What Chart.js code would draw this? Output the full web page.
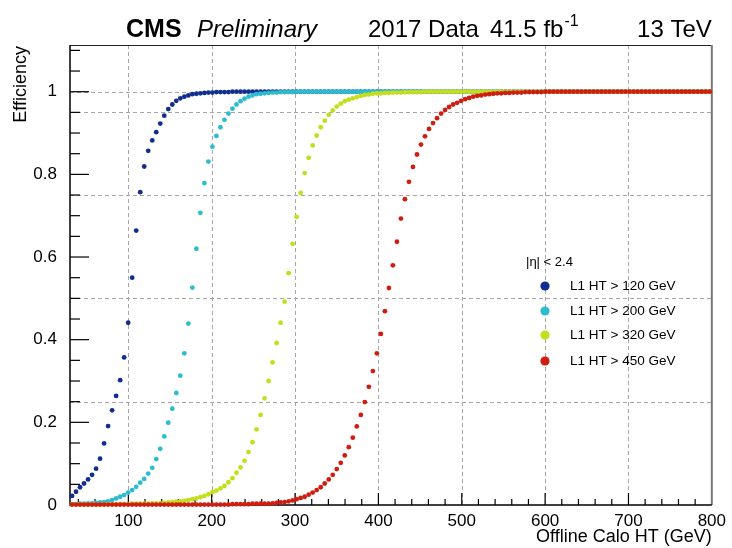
<!DOCTYPE html>
<html><head><meta charset="utf-8">
<script src="https://cdn.jsdelivr.net/npm/chart.js@4.4.0/dist/chart.umd.min.js"></script>
<style>html,body{margin:0;padding:0;background:#fff;}canvas{display:block;}</style>
</head><body>
<canvas id="c" width="732" height="548"></canvas>
<script>
// Offline Calo HT bin centres (GeV)
const htBins = [
32.41,37.22,42.03,46.84,51.66,56.47,61.28,66.09,70.91,75.72,
80.53,85.34,90.16,94.97,99.78,104.59,109.41,114.22,119.03,123.84,
128.66,133.47,138.28,143.09,147.91,152.72,157.53,162.34,167.16,171.97,
176.78,181.59,186.41,191.22,196.03,200.84,205.66,210.47,215.28,220.09,
224.91,229.72,234.53,239.34,244.16,248.97,253.78,258.59,263.41,268.22,
273.03,277.84,282.66,287.47,292.28,297.09,301.91,306.72,311.53,316.34,
321.16,325.97,330.78,335.59,340.41,345.22,350.03,354.84,359.66,364.47,
369.28,374.09,378.91,383.72,388.53,393.34,398.16,402.97,407.78,412.59,
417.41,422.22,427.03,431.84,436.66,441.47,446.28,451.09,455.91,460.72,
465.53,470.34,475.16,479.97,484.78,489.59,494.41,499.22,504.03,508.84,
513.66,518.47,523.28,528.09,532.91,537.72,542.53,547.34,552.16,556.97,
561.78,566.59,571.41,576.22,581.03,585.84,590.66,595.47,600.28,605.09,
609.91,614.72,619.53,624.34,629.16,633.97,638.78,643.59,648.41,653.22,
658.03,662.84,667.66,672.47,677.28,682.09,686.91,691.72,696.53,701.34,
706.16,710.97,715.78,720.59,725.41,730.22,735.03,739.84,744.66,749.47,
754.28,759.09,763.91,768.72,773.53,778.34,783.16,787.97,792.78,797.59];

const effHT120 = [
0.022,0.032,0.043,0.052,0.062,0.073,0.088,0.112,0.149,0.191,
0.229,0.264,0.302,0.357,0.441,0.550,0.664,0.757,0.819,0.857,
0.882,0.902,0.923,0.942,0.958,0.969,0.978,0.984,0.988,0.991,
0.994,0.995,0.996,0.997,0.998,0.998,0.999,0.999,0.999,0.999,
1,1,1,1,1,1,1,1,1,1, 1,1,1,1,1,1,1,1,1,1,
1,1,1,1,1,1,1,1,1,1, 1,1,1,1,1,1,1,1,1,1,
1,1,1,1,1,1,1,1,1,1, 1,1,1,1,1,1,1,1,1,1,
1,1,1,1,1,1,1,1,1,1, 1,1,1,1,1,1,1,1,1,1,
1,1,1,1,1,1,1,1,1,1, 1,1,1,1,1,1,1,1,1,1,
1,1,1,1,1,1,1,1,1,1, 1,1,1,1,1,1,1,1,1,1];

const effHT200 = [
0.002,0.002,0.003,0.003,0.004,0.004,0.005,0.006,0.007,0.009,
0.012,0.016,0.020,0.024,0.030,0.036,0.044,0.054,0.063,0.076,
0.090,0.111,0.136,0.166,0.199,0.233,0.271,0.313,0.367,0.439,
0.526,0.620,0.707,0.779,0.831,0.867,0.893,0.914,0.932,0.947,
0.959,0.969,0.977,0.983,0.988,0.991,0.994,0.995,0.996,0.997,
0.998,0.998,0.999,0.999,0.999,0.999,1,1,1,1,
1,1,1,1,1,1,1,1,1,1, 1,1,1,1,1,1,1,1,1,1,
1,1,1,1,1,1,1,1,1,1, 1,1,1,1,1,1,1,1,1,1,
1,1,1,1,1,1,1,1,1,1, 1,1,1,1,1,1,1,1,1,1,
1,1,1,1,1,1,1,1,1,1, 1,1,1,1,1,1,1,1,1,1,
1,1,1,1,1,1,1,1,1,1, 1,1,1,1,1,1,1,1,1,1];

const effHT320 = [
0.001,0.001,0.001,0.001,0.001,0.001,0.001,0.001,0.001,0.002,
0.002,0.002,0.002,0.002,0.002,0.003,0.003,0.003,0.003,0.003,
0.004,0.004,0.004,0.005,0.006,0.007,0.008,0.009,0.010,0.012,
0.014,0.016,0.019,0.022,0.026,0.031,0.035,0.040,0.046,0.055,
0.065,0.078,0.091,0.107,0.128,0.152,0.183,0.218,0.258,0.300,
0.345,0.392,0.441,0.492,0.561,0.632,0.697,0.755,0.803,0.840,
0.870,0.894,0.914,0.930,0.944,0.955,0.964,0.971,0.977,0.981,
0.984,0.987,0.990,0.992,0.993,0.995,0.996,0.996,0.997,0.997,
0.998,0.998,0.998,0.999,0.999,0.999,0.999,0.999,1,1,
1,1,1,1,1,1,1,1,1,1, 1,1,1,1,1,1,1,1,1,1,
1,1,1,1,1,1,1,1,1,1, 1,1,1,1,1,1,1,1,1,1,
1,1,1,1,1,1,1,1,1,1, 1,1,1,1,1,1,1,1,1,1,
1,1,1,1,1,1,1,1,1,1];

const effHT450 = [
0.001,0.001,0.001,0.001,0.001,0.001,0.001,0.001,0.001,0.001,
0.001,0.001,0.001,0.001,0.001,0.001,0.001,0.001,0.001,0.001,
0.001,0.001,0.001,0.001,0.001,0.001,0.001,0.001,0.001,0.001,
0.001,0.001,0.001,0.001,0.001,0.001,0.001,0.001,0.001,0.001,
0.002,0.002,0.002,0.002,0.002,0.003,0.003,0.003,0.003,0.003,
0.004,0.005,0.006,0.007,0.009,0.011,0.014,0.017,0.020,0.025,
0.030,0.036,0.043,0.052,0.062,0.073,0.087,0.102,0.120,0.140,
0.163,0.190,0.218,0.249,0.286,0.324,0.367,0.414,0.469,0.525,
0.580,0.637,0.693,0.740,0.782,0.818,0.848,0.872,0.892,0.910,
0.924,0.936,0.947,0.956,0.963,0.969,0.973,0.978,0.982,0.985,
0.988,0.990,0.991,0.993,0.994,0.995,0.996,0.996,0.997,0.997,
0.998,0.998,0.998,0.999,0.999,0.999,0.999,0.999,1,1,
1,1,1,1,1,1,1,1,1,1, 1,1,1,1,1,1,1,1,1,1,
1,1,1,1,1,1,1,1,1,1, 1,1,1,1,1,1,1,1,1,1];

const seriesLabels = ['L1 HT > 120 GeV','L1 HT > 200 GeV','L1 HT > 320 GeV','L1 HT > 450 GeV'];
const seriesValues = [effHT120, effHT200, effHT320, effHT450];
const seriesColors = ['#0f2e8f','#2bbdcf','#c5de1c','#cf1e10'];
const legendHeader = '|\u03B7| < 2.4';

const xTickValues = [100,200,300,400,500,600,700,800];
const xTickLabels = ['100','200','300','400','500','600','700','800'];
const yTickValues = [0,0.2,0.4,0.6,0.8,1];
const yTickLabels = ['0','0.2','0.4','0.6','0.8','1'];
const vGridValues = [100,200,300,400,500,600,700];
const hGridValues = [0.25,0.5,0.75,0.95,1];

const FONT = '"Liberation Sans", Arial, Helvetica, sans-serif';

const rootStyle = {
  id: 'rootStyle',
  beforeDatasetsDraw(chart) {
    const {ctx, chartArea: a, scales: {x, y}} = chart;
    ctx.save();
    ctx.strokeStyle = '#a6a6a6'; ctx.lineWidth = 1; ctx.setLineDash([4,3]);
    vGridValues.forEach(v => {
      const px = Math.round(x.getPixelForValue(v)) + 0.5;
      ctx.beginPath(); ctx.moveTo(px, a.top); ctx.lineTo(px, a.bottom); ctx.stroke();
    });
    hGridValues.forEach(v => {
      const py = Math.round(y.getPixelForValue(v)) + 0.5;
      ctx.beginPath(); ctx.moveTo(a.left, py); ctx.lineTo(a.right, py); ctx.stroke();
    });
    ctx.setLineDash([]);
    ctx.strokeStyle = '#222'; ctx.lineWidth = 1;
    ctx.beginPath(); ctx.moveTo(a.left, a.top + 0.5); ctx.lineTo(a.right, a.top + 0.5); ctx.stroke();
    ctx.strokeStyle = '#777'; ctx.lineWidth = 2;
    ctx.beginPath(); ctx.moveTo(a.right, a.top); ctx.lineTo(a.right, a.bottom); ctx.stroke();
    ctx.strokeStyle = '#000'; ctx.lineWidth = 1.5;
    ctx.beginPath(); ctx.moveTo(a.left, a.top); ctx.lineTo(a.left, a.bottom); ctx.lineTo(a.right, a.bottom); ctx.stroke();
    ctx.lineWidth = 1.2;
    for (let v = 40; v < 800; v += 20) {
      const px = x.getPixelForValue(v);
      const len = (v % 100 === 0) ? 12 : 6;
      ctx.beginPath(); ctx.moveTo(px, a.bottom); ctx.lineTo(px, a.bottom - len); ctx.stroke();
    }
    for (let k = 1; k <= 22; k++) {
      const v = k * 0.05;
      if (v > y.max) break;
      const py = y.getPixelForValue(v);
      const len = (k % 4 === 0) ? 19 : 10;
      ctx.beginPath(); ctx.moveTo(a.left, py); ctx.lineTo(a.left + len, py); ctx.stroke();
    }
    ctx.restore();
  },
  afterDraw(chart) {
    const {ctx, chartArea: a} = chart;
    ctx.save();
    ctx.fillStyle = '#000';
    ctx.textBaseline = 'alphabetic';
    ctx.textAlign = 'left';
    ctx.font = 'bold 25px ' + FONT; ctx.fillText('CMS', 126, 37);
    ctx.font = 'italic 24px ' + FONT; ctx.fillText('Preliminary', 197, 37);
    ctx.font = '24px ' + FONT; ctx.fillText('2017 Data', 368, 37);
    ctx.fillText('41.5 fb', 490, 37);
    const w = ctx.measureText('41.5 fb').width;
    ctx.font = '16px ' + FONT; ctx.fillText('-1', 490 + w + 1, 26);
    ctx.font = '24px ' + FONT; ctx.textAlign = 'right'; ctx.fillText('13 TeV', a.right, 37);
    ctx.font = '18px ' + FONT;
    ctx.textAlign = 'right';
    ctx.fillText('Offline Calo HT (GeV)', a.right, 542);
    ctx.save();
    ctx.translate(26, a.top + 1);
    ctx.rotate(-Math.PI / 2);
    ctx.fillText('Efficiency', 0, 0);
    ctx.restore();
    ctx.textAlign = 'left'; ctx.textBaseline = 'middle';
    ctx.font = '13px ' + FONT;
    ctx.fillText(legendHeader, 526, 262);
    const rows = [286, 311, 335, 361];
    ctx.font = '13.5px ' + FONT;
    seriesLabels.forEach((lab, i) => {
      ctx.fillStyle = seriesColors[i];
      ctx.beginPath(); ctx.arc(545, rows[i], 4.6, 0, Math.PI * 2); ctx.fill();
      ctx.fillStyle = '#000';
      ctx.fillText(lab, 570, rows[i]);
    });
    ctx.restore();
  }
};

const datasets = seriesValues.map((vals, s) => ({
  label: seriesLabels[s],
  data: htBins.map((xv, i) => ({x: xv, y: vals[i]})),
  showLine: false,
  pointRadius: 2.4,
  pointHoverRadius: 2.4,
  pointBackgroundColor: seriesColors[s],
  pointBorderWidth: 0,
  borderColor: seriesColors[s],
  clip: false,
  order: seriesValues.length - s
}));

new Chart(document.getElementById('c'), {
  type: 'scatter',
  data: { datasets },
  options: {
    responsive: false,
    animation: false,
    devicePixelRatio: 1,
    layout: { padding: { left: 0, right: 17, top: 45, bottom: 0 } },
    plugins: { legend: { display: false }, tooltip: { enabled: false } },
    scales: {
      x: {
        type: 'linear', min: 30, max: 800,
        grid: { display: false, drawTicks: false },
        border: { display: false },
        afterBuildTicks: s => { s.ticks = xTickValues.map(v => ({value: v})); },
        afterFit: s => { s.height = 43; },
        ticks: {
          padding: 6, color: '#000', font: { family: FONT, size: 17 }, maxRotation: 0, autoSkip: false,
          callback: (v) => xTickLabels[xTickValues.indexOf(v)]
        }
      },
      y: {
        type: 'linear', min: 0, max: 1.113,
        grid: { display: false, drawTicks: false },
        border: { display: false },
        afterBuildTicks: s => { s.ticks = yTickValues.map(v => ({value: v})); },
        afterFit: s => { s.width = 70; },
        ticks: {
          padding: 13, color: '#000', font: { family: FONT, size: 17 }, autoSkip: false,
          callback: (v) => yTickLabels[yTickValues.indexOf(v)]
        }
      }
    }
  },
  plugins: [rootStyle]
});
</script>
</body></html>
